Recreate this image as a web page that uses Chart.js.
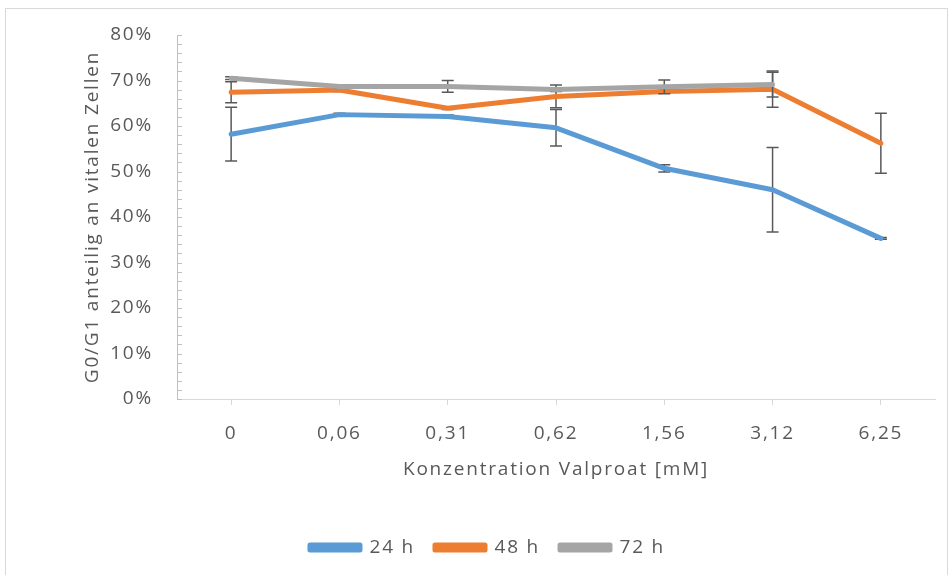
<!DOCTYPE html>
<html>
<head>
<meta charset="utf-8">
<script src="https://cdn.jsdelivr.net/npm/chart.js@4.4.1/dist/chart.umd.min.js"></script>
<style>
  body { margin: 0; background: #fff; }
  #wrap { width: 950px; height: 575px; }
</style>
</head>
<body>
<div id="wrap"><canvas id="myChart" width="950" height="575"></canvas></div>
<script>
// Konzentration Valproat [mM]
const labels = ['0', '0,06', '0,31', '0,62', '1,56', '3,12', '6,25']

// G0/G1 Anteil in %
const h24 = [58.2, 62.5, 62.1, 59.6, 50.7, 46.0, 35.3]
const h48 = [67.4, 67.9, 63.9, 66.5, 67.6, 68.1, 56.2]
const h72 = [70.5, 68.7, 68.7, 68.0, 68.6, 69.1, null]

// Standardabweichung
const err24 = [5.9, 0.3, 0.3, 4.0, 0.8, 9.3, 0.2]
const err48 = [2.3, 0.3, 0.3, 2.5, 0.3, 4.0, 6.6]
const err72 = [0.3, 0.3, 1.3, 0.4, 1.5, 2.7, null]

const yTicks = [0, 10, 20, 30, 40, 50, 60, 70, 80]

const textColor = '#595959'
const fontFam = '"Open Sans", sans-serif'

// Excel-Schrift wirkt gesperrt -> etwas Zeichenabstand
function spacing(chart) { chart.ctx.letterSpacing = '1.8px' }

const errorBars = {
  id: 'errorBars',
  beforeDatasetDraw(chart, args) {
    const ds = chart.data.datasets[args.index]
    if (!ds.errors) return
    const ctx = chart.ctx
    const y = chart.scales.y
    ctx.save()
    ctx.strokeStyle = '#595959'
    ctx.lineWidth = 1.5
    args.meta.data.forEach((pt, i) => {
      const v = ds.data[i], e = ds.errors[i]
      if (v == null || e == null) return
      const yt = y.getPixelForValue(v + e), yb = y.getPixelForValue(v - e)
      ctx.beginPath()
      ctx.moveTo(pt.x, yt); ctx.lineTo(pt.x, yb)
      ctx.moveTo(pt.x - 6, yt); ctx.lineTo(pt.x + 6, yt)
      ctx.moveTo(pt.x - 6, yb); ctx.lineTo(pt.x + 6, yb)
      ctx.stroke()
    })
    ctx.restore()
  }
}

const frame = {
  id: 'frame',
  beforeUpdate: spacing,
  beforeLayout: spacing,
  beforeDraw(chart) {
    spacing(chart)
    const ctx = chart.ctx
    ctx.save()
    ctx.fillStyle = '#fff'
    ctx.fillRect(0, 0, chart.width, chart.height)
    ctx.strokeStyle = '#d9d9d9'
    ctx.lineWidth = 1
    ctx.strokeRect(5.5, 8.5, 942, 580)
    ctx.restore()
  },
  afterDraw(chart) {
    // Hilfsstriche an der y-Achse (alle 2 %)
    const ctx = chart.ctx
    const y = chart.scales.y
    const x0 = chart.chartArea.left
    ctx.save()
    ctx.strokeStyle = '#bfbfbf'
    ctx.lineWidth = 1
    ctx.beginPath()
    for (let v = 0; v <= 80; v += 2) {
      const py = Math.round(y.getPixelForValue(v)) + 0.5
      ctx.moveTo(x0, py); ctx.lineTo(x0 + 5, py)
    }
    ctx.stroke()
    ctx.restore()
  }
}

Chart.defaults.font.family = fontFam
Chart.defaults.font.size = 19
Chart.defaults.color = textColor

let myChart = new Chart('myChart', {
  type: 'line',
  data: {
    labels: labels,
    datasets: [
      { label: '24 h', data: h24, errors: err24, borderColor: '#5B9BD5', backgroundColor: '#5B9BD5', order: 3 },
      { label: '48 h', data: h48, errors: err48, borderColor: '#ED7D31', backgroundColor: '#ED7D31', order: 2 },
      { label: '72 h', data: h72, errors: err72, borderColor: '#A5A5A5', backgroundColor: '#A5A5A5', order: 1 }
    ]
  },
  options: {
    responsive: false,
    animation: false,
    layout: { padding: { left: 40, right: 15, top: 35, bottom: 8 } },
    elements: {
      line: { borderWidth: 5, tension: 0, borderCapStyle: 'round', borderJoinStyle: 'round', fill: false },
      point: { radius: 0, hoverRadius: 0 }
    },
    plugins: {
      legend: {
        position: 'bottom',
        labels: {
          boxWidth: 50, boxHeight: 5, padding: 20,
          color: textColor,
          sort: (a, b) => a.datasetIndex - b.datasetIndex
        }
      },
      tooltip: { enabled: false }
    },
    scales: {
      x: {
        offset: true,
        grid: { display: true, drawOnChartArea: false, offset: false, tickLength: 6, tickColor: '#d9d9d9' },
        border: { display: true, color: '#d9d9d9', width: 1 },
        ticks: { padding: 17, maxRotation: 0, autoSkip: false },
        title: { display: true, text: 'Konzentration Valproat [mM]', padding: { top: 6, bottom: 37 } },
        afterFit(scale) { scale.height = 119 }
      },
      y: {
        min: 0, max: 80,
        afterBuildTicks(scale) { scale.ticks = yTicks.map(v => ({ value: v })) },
        grid: { display: false },
        border: { display: true, color: '#bfbfbf', width: 1 },
        ticks: { padding: 16, callback: v => v + '%' },
        title: { display: true, text: 'G0/G1 anteilig an vitalen Zellen', padding: { top: 41, bottom: 0 } },
        afterFit(scale) { scale.width = 137 }
      }
    }
  },
  plugins: [errorBars, frame]
})
</script>
</body>
</html>
